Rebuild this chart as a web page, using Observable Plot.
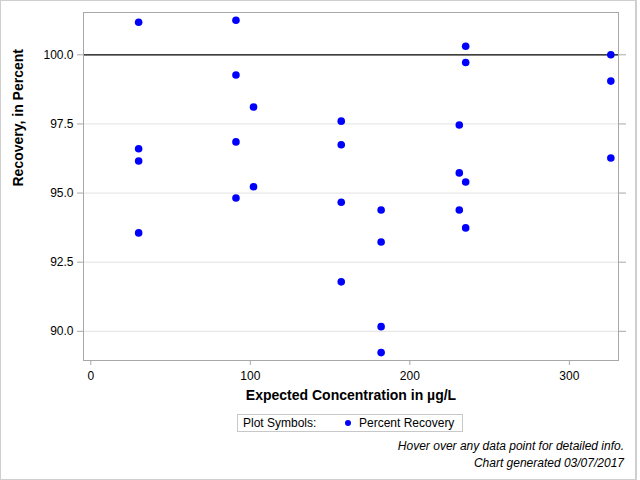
<!DOCTYPE html>
<html>
<head>
<meta charset="utf-8">
<script src="https://cdn.jsdelivr.net/npm/d3@7"></script>
<script src="https://cdn.jsdelivr.net/npm/@observablehq/plot@0.6"></script>
<style>
  html, body { margin: 0; padding: 0; background: white; }
  #wrap { position: relative; width: 640px; height: 480px; overflow: hidden; font-family: "Liberation Sans", Arial, sans-serif; }
  #outline { position: absolute; left: 0; top: 0; width: 637px; height: 480px; border: 1px solid #cfcfcf; border-right-width: 2px; box-sizing: border-box; pointer-events: none; }
  #chart { position: absolute; left: 0; top: 0; width: 640px; }
  #chart svg { max-width: none !important; }
  #legend { position: absolute; left: 237px; top: 414px; width: 226px; height: 18px; box-sizing: border-box; border: 1px solid #c8c8c8; font-size: 12px; line-height: 16px; color: #000; white-space: nowrap; }
  #legend .lab { position: absolute; left: 5px; top: 0; }
  #legend .dot { position: absolute; left: 107px; top: 5px; width: 6px; height: 6px; border-radius: 50%; background: #0000ff; }
  #legend .name { position: absolute; left: 121px; top: 0; }
  .note { position: absolute; right: 16px; font-size: 12px; font-style: italic; color: #000; white-space: nowrap; }
</style>
</head>
<body>
<div id="wrap">
  <div id="chart"></div>
  <div id="legend"><span class="lab">Plot Symbols:</span><span class="dot"></span><span class="name">Percent Recovery</span></div>
  <div class="note" id="n1" style="top:439px">Hover over any data point for detailed info.</div>
  <div class="note" id="n2" style="top:456px">Chart generated 03/07/2017</div>
  <div id="outline"></div>
</div>
<script>
const concentration = [30, 30, 30, 30, 91, 91, 91, 91, 102, 102, 157, 157, 157, 157, 182, 182, 182, 182, 231, 231, 231, 235, 235, 235, 235, 326, 326, 326];
const recovery = [101.18, 96.60, 96.16, 93.56, 101.25, 99.27, 96.85, 94.82, 98.11, 95.23, 97.60, 96.75, 94.67, 91.79, 94.39, 93.23, 90.17, 89.23, 97.46, 95.73, 94.39, 100.31, 99.72, 95.40, 93.74, 100.0, 99.05, 96.27];
const yTicks = [90, 92.5, 95, 97.5, 100];
const xTicks = [0, 100, 200, 300];
const referenceLine = [100];
const xLabel = "Expected Concentration in µg/L";
const yLabel = "Recovery, in Percent";

const data = concentration.map((c, i) => ({c, r: recovery[i]}));

const chart = Plot.plot({
  width: 640,
  height: 412,
  marginLeft: 83,
  marginRight: 22,
  marginTop: 12,
  marginBottom: 52,
  style: {fontFamily: "'Liberation Sans', Arial, sans-serif", fontSize: "12px", color: "#000", background: "transparent", overflow: "visible", maxWidth: "none"},
  x: {domain: [-4.57, 330.8], label: null},
  y: {domain: [88.945, 101.53], label: null},
  marks: [
    Plot.gridY(yTicks.filter(t => t !== 100), {stroke: "#e2e2e2", strokeOpacity: 1}),
    Plot.ruleY(referenceLine, {stroke: "#000", strokeWidth: 1.2}),
    Plot.frame({stroke: "#a8a8a8"}),
    Plot.axisY(yTicks, {anchor: "left", tickSize: 6, tickPadding: 4, stroke: "#a8a8a8", fill: "#000", tickFormat: d => d.toFixed(1), fontSize: 12}),
    Plot.axisY(yTicks, {anchor: "right", tickSize: 7, stroke: "#a8a8a8", tickFormat: () => ""}),
    Plot.axisX(xTicks, {anchor: "bottom", tickSize: 5, tickPadding: 6, stroke: "#a8a8a8", fill: "#000", fontSize: 12}),
    Plot.dot(data, {x: "c", y: "r", r: 3.8, fill: "#0000ff", stroke: null}),
    Plot.text([xLabel], {frameAnchor: "bottom", dy: 39, fontWeight: "bold", fontSize: 14, fill: "#000"}),
    Plot.text([yLabel], {frameAnchor: "left", dx: -65, rotate: -90, fontWeight: "bold", fontSize: 14, fill: "#000"})
  ]
});
document.getElementById("chart").appendChild(chart);
</script>
</body>
</html>
